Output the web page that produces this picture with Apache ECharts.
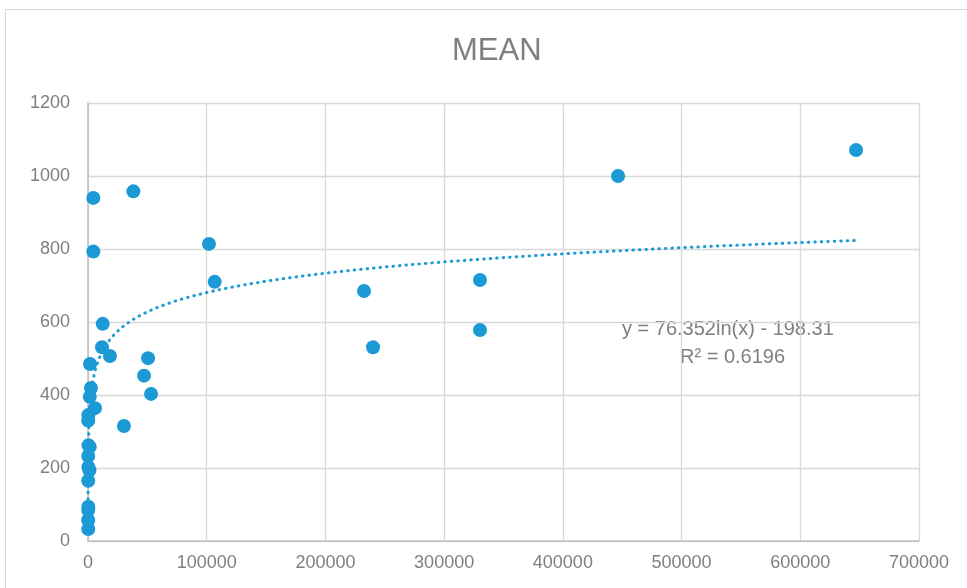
<!DOCTYPE html>
<html><head><meta charset="utf-8">
<script src="https://cdn.jsdelivr.net/npm/echarts@6/dist/echarts.min.js"></script>
<style>
html,body{margin:0;padding:0;background:#fff;overflow:hidden;}
#frame{position:absolute;left:5px;top:9px;width:980px;height:600px;border:1px solid #d9d9d9;box-sizing:border-box;}
#main{position:absolute;left:0;top:0;width:967px;height:588px;}
</style></head>
<body>
<div id="frame"></div>
<div id="main"></div>
<script>
var titleText = 'MEAN';
var xValues = [647000, 446500, 330200, 330200, 232500, 240100, 101900, 106700, 38200, 4500, 4500, 12400, 11800, 18500, 50600, 47200, 53100, 30300, 5900, 1700, 2500, 1500, 300, 200, 400, 1500, 200, 300, 1200, 200, 300, 200, 150, 200];
var yValues = [1071, 1000, 715, 578, 685, 531, 814, 710, 958, 940, 793, 595, 531, 507, 501, 453, 403, 315, 364, 485, 419, 395, 345, 330, 262, 258, 233, 203, 194, 165, 94, 85, 57, 33];
var trendA = 76.352, trendB = -198.31;
var trendStartX = 60;
var equationText = 'y = 76.352ln(x) - 198.31';
var r2Text = 'R² = 0.6196';
var xTicks = [0, 100000, 200000, 300000, 400000, 500000, 600000, 700000];
var yTicks = [0, 200, 400, 600, 800, 1000, 1200];

var scatterData = xValues.map(function(x, i){ return [x, yValues[i]]; });
var xMaxData = Math.max.apply(null, xValues);
var trendData = [];
var n = 400;
for (var i = 0; i <= n; i++) {
  var x = trendStartX * Math.pow(xMaxData / trendStartX, i / n);
  trendData.push([x, trendA * Math.log(x) + trendB]);
}
var gray = '#7f7f7f';
var blue = '#1b9ad6';
var plain = function(v){ return String(v); };
var chart = echarts.init(document.getElementById('main'));
chart.setOption({
  animation: false,
  title: { text: titleText, left: 447, top: 31, textStyle: { fontFamily: 'Liberation Sans', fontSize: 31, fontWeight: 'normal', color: gray } },
  grid: { left: 88, right: 48, top: 103, bottom: 47 },
  xAxis: {
    type: 'value', min: xTicks[0], max: xTicks[xTicks.length-1], interval: xTicks[1]-xTicks[0],
    axisLine: { show: true, lineStyle: { color: '#bfbfbf', width: 1.5 } },
    axisTick: { show: false },
    splitLine: { show: true, lineStyle: { color: '#d9d9d9', width: 1.3 } },
    axisLabel: { color: gray, fontSize: 18, fontFamily: 'Liberation Sans', margin: 13, formatter: plain }
  },
  yAxis: {
    type: 'value', min: yTicks[0], max: yTicks[yTicks.length-1], interval: yTicks[1]-yTicks[0],
    axisLine: { show: true, lineStyle: { color: '#bfbfbf', width: 1.5 } },
    axisTick: { show: false },
    splitLine: { show: true, lineStyle: { color: '#d9d9d9', width: 1.3 } },
    axisLabel: { color: gray, fontSize: 18, fontFamily: 'Liberation Sans', margin: 18, formatter: plain }
  },
  series: [
    { type: 'line', data: trendData, showSymbol: false, symbol: 'none', smooth: false,
      lineStyle: { color: blue, width: 3, type: [0.5, 6], cap: 'round' }, z: 2 },
    { type: 'scatter', data: scatterData, symbolSize: 14, itemStyle: { color: blue, opacity: 1 }, z: 3 }
  ],
  graphic: [
    { type: 'text', left: 622, top: 319, style: { text: equationText, fill: gray, font: '20px "Liberation Sans"' } },
    { type: 'text', left: 680, top: 347, style: { text: r2Text, fill: gray, font: '20px "Liberation Sans"' } }
  ]
});
</script>
</body></html>
